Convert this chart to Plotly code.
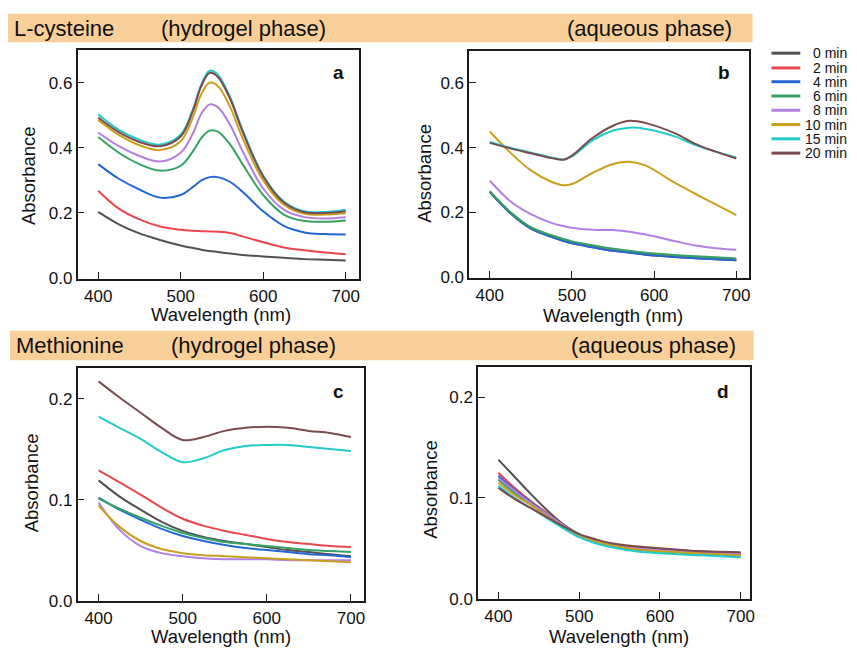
import plotly.graph_objects as go

W, H = 857, 650
FONT = "Liberation Sans, Arial, sans-serif"

TIMES = ["0 min", "2 min", "4 min", "6 min", "8 min", "10 min", "15 min", "20 min"]
COLORS = ["#525252", "#E8474C", "#2467D2", "#33A263", "#B27FE2", "#C9A01E", "#22CACA", "#7A4B4F"]

# ---------------- panel a : L-cysteine, hydrogel phase ----------------
WL_A = [400, 425, 450, 475, 500, 515, 525, 535, 545, 560, 575, 600, 625, 650, 675, 700]
a_0 = [0.203, 0.165, 0.137, 0.117, 0.100, 0.092, 0.087, 0.083, 0.080, 0.075, 0.071, 0.066, 0.062, 0.058, 0.056, 0.054]
a_2 = [0.268, 0.213, 0.180, 0.158, 0.148, 0.145, 0.144, 0.143, 0.142, 0.138, 0.128, 0.110, 0.094, 0.085, 0.078, 0.073]
a_4 = [0.350, 0.305, 0.272, 0.247, 0.255, 0.280, 0.300, 0.310, 0.310, 0.295, 0.265, 0.205, 0.160, 0.140, 0.135, 0.134]
a_6 = [0.433, 0.385, 0.350, 0.330, 0.345, 0.390, 0.430, 0.453, 0.450, 0.410, 0.350, 0.255, 0.195, 0.175, 0.173, 0.177]
a_8 = [0.447, 0.405, 0.375, 0.358, 0.385, 0.445, 0.505, 0.533, 0.525, 0.470, 0.390, 0.275, 0.210, 0.187, 0.183, 0.187]
a_10 = [0.486, 0.440, 0.408, 0.393, 0.420, 0.495, 0.565, 0.600, 0.590, 0.525, 0.430, 0.300, 0.225, 0.197, 0.195, 0.199]
a_15 = [0.503, 0.455, 0.425, 0.410, 0.440, 0.520, 0.595, 0.637, 0.625, 0.555, 0.455, 0.315, 0.235, 0.205, 0.203, 0.210]
a_20 = [0.493, 0.448, 0.418, 0.405, 0.435, 0.515, 0.590, 0.630, 0.618, 0.550, 0.450, 0.312, 0.232, 0.202, 0.200, 0.205]

# ---------------- panel b : L-cysteine, aqueous phase ----------------
WL_B = [400, 425, 450, 475, 490, 500, 525, 550, 570, 590, 625, 650, 675, 700]
b_0 = [0.263, 0.198, 0.150, 0.125, 0.112, 0.105, 0.093, 0.082, 0.076, 0.070, 0.063, 0.059, 0.056, 0.053]
b_2 = [0.265, 0.200, 0.152, 0.127, 0.114, 0.107, 0.095, 0.084, 0.078, 0.072, 0.065, 0.061, 0.058, 0.055]
b_4 = [0.264, 0.199, 0.151, 0.125, 0.112, 0.105, 0.093, 0.082, 0.076, 0.070, 0.063, 0.059, 0.056, 0.053]
b_6 = [0.266, 0.202, 0.155, 0.130, 0.118, 0.111, 0.099, 0.088, 0.082, 0.076, 0.069, 0.065, 0.062, 0.058]
b_8 = [0.298, 0.235, 0.195, 0.168, 0.158, 0.153, 0.147, 0.146, 0.141, 0.132, 0.112, 0.098, 0.090, 0.085]
b_10 = [0.450, 0.385, 0.330, 0.295, 0.284, 0.288, 0.322, 0.350, 0.357, 0.345, 0.292, 0.258, 0.225, 0.192]
b_15 = [0.418, 0.400, 0.385, 0.370, 0.364, 0.373, 0.423, 0.453, 0.462, 0.458, 0.435, 0.408, 0.388, 0.370]
b_20 = [0.415, 0.398, 0.383, 0.368, 0.363, 0.376, 0.430, 0.468, 0.483, 0.476, 0.445, 0.412, 0.388, 0.367]

# ---------------- panel c : Methionine, hydrogel phase ----------------
WL_C = [400, 425, 450, 475, 500, 525, 550, 575, 600, 625, 650, 675, 700]
c_0 = [0.119, 0.103, 0.090, 0.078, 0.069, 0.063, 0.059, 0.056, 0.053, 0.050, 0.048, 0.046, 0.044]
c_2 = [0.129, 0.117, 0.105, 0.092, 0.081, 0.074, 0.069, 0.065, 0.061, 0.058, 0.056, 0.054, 0.053]
c_4 = [0.102, 0.090, 0.080, 0.071, 0.064, 0.059, 0.055, 0.052, 0.050, 0.048, 0.046, 0.045, 0.043]
c_6 = [0.101, 0.091, 0.082, 0.074, 0.067, 0.062, 0.058, 0.056, 0.054, 0.052, 0.050, 0.049, 0.048]
c_8 = [0.097, 0.070, 0.054, 0.047, 0.044, 0.042, 0.041, 0.041, 0.041, 0.040, 0.040, 0.040, 0.040]
c_10 = [0.094, 0.073, 0.059, 0.051, 0.047, 0.045, 0.044, 0.043, 0.042, 0.041, 0.040, 0.039, 0.038]
c_15 = [0.182, 0.171, 0.160, 0.147, 0.137, 0.141, 0.149, 0.153, 0.154, 0.154, 0.152, 0.150, 0.148]
c_20 = [0.217, 0.201, 0.186, 0.171, 0.159, 0.162, 0.168, 0.171, 0.172, 0.171, 0.168, 0.166, 0.162]

# ---------------- panel d : Methionine, aqueous phase ----------------
WL_D = [400, 420, 440, 460, 480, 500, 520, 540, 570, 600, 650, 700]
d_0 = [0.138, 0.121, 0.104, 0.088, 0.074, 0.064, 0.058, 0.054, 0.051, 0.049, 0.047, 0.045]
d_2 = [0.125, 0.110, 0.097, 0.085, 0.073, 0.063, 0.057, 0.053, 0.050, 0.048, 0.046, 0.044]
d_4 = [0.122, 0.108, 0.096, 0.084, 0.073, 0.063, 0.057, 0.053, 0.049, 0.047, 0.045, 0.043]
d_6 = [0.118, 0.105, 0.094, 0.083, 0.072, 0.063, 0.057, 0.053, 0.049, 0.047, 0.045, 0.043]
d_8 = [0.120, 0.107, 0.095, 0.084, 0.073, 0.063, 0.057, 0.053, 0.050, 0.048, 0.046, 0.044]
d_10 = [0.115, 0.103, 0.093, 0.082, 0.072, 0.063, 0.057, 0.053, 0.049, 0.047, 0.045, 0.043]
d_15 = [0.112, 0.100, 0.090, 0.080, 0.070, 0.061, 0.055, 0.051, 0.047, 0.045, 0.043, 0.041]
d_20 = [0.110, 0.099, 0.090, 0.081, 0.072, 0.064, 0.059, 0.055, 0.052, 0.050, 0.047, 0.046]

X_TICKS = [400, 500, 600, 700]
Y_TICKS_AB = [0.0, 0.2, 0.4, 0.6]
Y_TICKS_CD = [0.0, 0.1, 0.2]


def px_x(p):
    return p / W


def px_y(p):
    return 1 - p / H


panels = [
    ("", WL_A, [a_0, a_2, a_4, a_6, a_8, a_10, a_15, a_20], (78, 361), (51, 283), [375, 716], [-0.002, 0.700], Y_TICKS_AB, "a", (340, 74), (28, 178), (222, 308)),
    ("2", WL_B, [b_0, b_2, b_4, b_6, b_8, b_10, b_15, b_20], (472, 753), (52, 282), [375, 715], [-0.001, 0.698], Y_TICKS_AB, "b", (728, 74), (427, 176), (617, 309)),
    ("3", WL_C, [c_0, c_2, c_4, c_6, c_8, c_10, c_15, c_20], (78, 366), (374, 610), [375, 715.4], [0.0, 0.230], Y_TICKS_CD, "c", (340, 398), (32, 490), (222, 635)),
    ("4", WL_D, [d_0, d_2, d_4, d_6, d_8, d_10, d_15, d_20], (481, 754), (373, 608), [375, 711], [0.0, 0.2297], Y_TICKS_CD, "d", (727, 398), (433, 497), (623, 635)),
]

fig = go.Figure()
annotations = []
shapes = []

axis_common = dict(
    showline=True, linecolor="#1a1a1a", linewidth=1.6, mirror=True,
    ticks="inside", ticklen=7, tickwidth=1.4, tickcolor="#1a1a1a",
    showgrid=False, zeroline=False,
    tickfont=dict(family=FONT, size=17, color="#111"),
)

for suf, wl, series, xd, yd, xr, yr, yt, letter, lpos, ytpos, xtpos in panels:
    for name, color, vals in zip(TIMES, COLORS, series):
        fig.add_trace(go.Scatter(
            x=wl, y=vals, mode="lines", name=name, showlegend=False,
            line=dict(color=color, width=2, shape="spline", smoothing=1.0),
            xaxis="x" + suf, yaxis="y" + suf,
        ))
    fig.update_layout(**{
        "xaxis" + suf: dict(axis_common, domain=[px_x(xd[0]), px_x(xd[1])], range=xr,
                            tickvals=X_TICKS, anchor="y" + suf, ticklabelstandoff=1),
        "yaxis" + suf: dict(axis_common, domain=[px_y(yd[1]), px_y(yd[0])], range=yr,
                            tickvals=yt, tickformat=".1f", anchor="x" + suf),
    })
    annotations.append(dict(x=px_x(lpos[0]), y=px_y(lpos[1]), xref="paper", yref="paper",
                            text="<b>%s</b>" % letter, showarrow=False, xanchor="center", yanchor="middle",
                            font=dict(family=FONT, size=19, color="#111")))
    annotations.append(dict(x=px_x(ytpos[0]), y=px_y(ytpos[1]), xref="paper", yref="paper",
                            text="Absorbance", textangle=-90, showarrow=False, xanchor="center", yanchor="middle",
                            font=dict(family=FONT, size=18.5, color="#111")))
    annotations.append(dict(x=px_x(xtpos[0]), y=px_y(xtpos[1]), xref="paper", yref="paper",
                            text="Wavelength (nm)", showarrow=False, xanchor="center", yanchor="top",
                            borderpad=0, font=dict(family=FONT, size=18.5, color="#111")))

# header bars
BAR = "#F8CF99"
shapes.append(dict(type="rect", xref="paper", yref="paper", x0=px_x(8), x1=px_x(757), y0=px_y(43), y1=px_y(14),
                   fillcolor=BAR, line=dict(width=0), layer="below"))
shapes.append(dict(type="rect", xref="paper", yref="paper", x0=px_x(10), x1=px_x(758), y0=px_y(366), y1=px_y(336),
                   fillcolor=BAR, line=dict(width=0), layer="below"))

headers = [("L-cysteine", 12, 29), ("(hydrogel phase)", 160, 29), ("(aqueous phase)", 568, 29),
           ("Methionine", 14, 351), ("(hydrogel phase)", 170, 351), ("(aqueous phase)", 572, 351)]
for txt, hx, hy in headers:
    annotations.append(dict(x=px_x(hx), y=px_y(hy), xref="paper", yref="paper", text=txt, showarrow=False,
                            xanchor="left", yanchor="middle", font=dict(family=FONT, size=22, color="#111")))

# legend (drawn as swatches + labels)
LEG_Y = [54, 69, 83, 97.5, 112, 126.5, 141, 155.5]
for name, color, ly in zip(TIMES, COLORS, LEG_Y):
    shapes.append(dict(type="line", xref="paper", yref="paper", x0=px_x(776), x1=px_x(805),
                       y0=px_y(ly), y1=px_y(ly), line=dict(color=color, width=3)))
    annotations.append(dict(x=px_x(853), y=px_y(ly), xref="paper", yref="paper", text=name, showarrow=False,
                            xanchor="right", yanchor="middle", borderpad=0,
                            font=dict(family=FONT, size=14, color="#111")))

fig.update_layout(
    width=W, height=H, margin=dict(l=0, r=0, t=0, b=0),
    paper_bgcolor="white", plot_bgcolor="white",
    showlegend=False, annotations=annotations, shapes=shapes,
)

fig.write_html("out.html", config={"displayModeBar": False},
               post_script="document.body.style.margin='0';document.body.style.overflow='hidden';")
